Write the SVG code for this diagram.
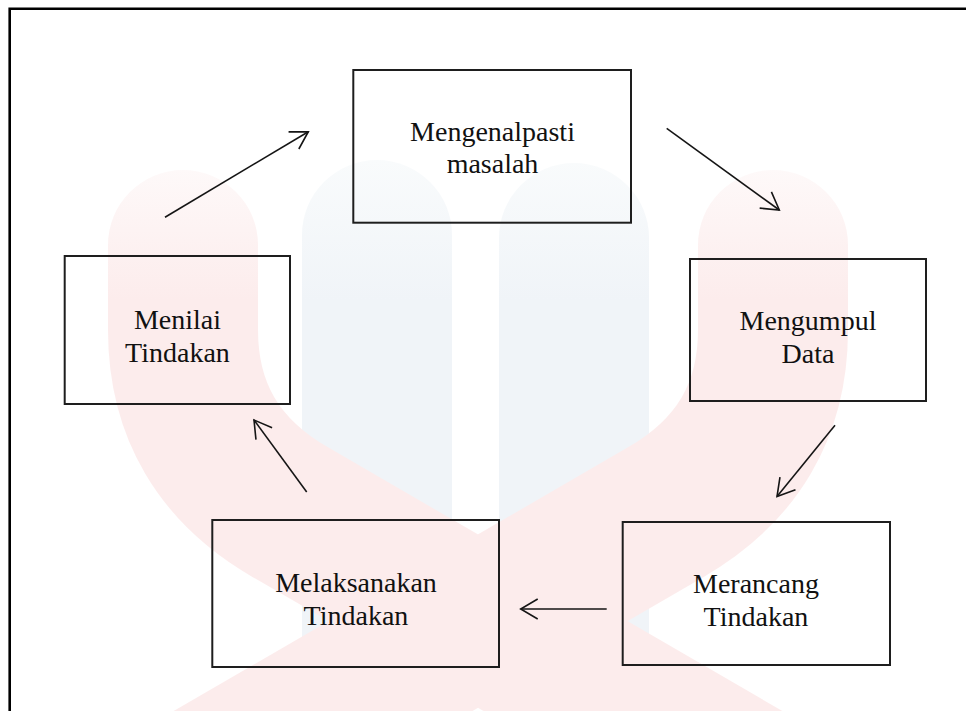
<svg xmlns="http://www.w3.org/2000/svg" width="966" height="711" viewBox="0 0 966 711">
<defs>
<style>
.box{fill:none;stroke:#1e1e1e;stroke-width:2}
.lbl{font-family:"Liberation Serif","Times New Roman",serif;font-size:28px;fill:#111;text-anchor:middle}
.conn{fill:none;stroke:#151515;stroke-width:1.6}
.wm{fill:none;stroke-width:150;stroke-linecap:round;stroke-linejoin:round}
</style>
<linearGradient id="pg" gradientUnits="userSpaceOnUse" x1="0" y1="160" x2="0" y2="300">
<stop offset="0" stop-color="#fefafa"/><stop offset="1" stop-color="#fcecec"/>
</linearGradient>
<linearGradient id="bg" gradientUnits="userSpaceOnUse" x1="0" y1="160" x2="0" y2="300">
<stop offset="0" stop-color="#f9fbfc"/><stop offset="1" stop-color="#f0f4f8"/>
</linearGradient>
<marker id="ah" markerUnits="userSpaceOnUse" markerWidth="24" markerHeight="24" viewBox="0 0 24 24" refX="21" refY="12" orient="auto">
<path d="M4,2 L21,12 L4,22" fill="none" stroke="#151515" stroke-width="1.6"/>
</marker>
</defs>
<rect width="966" height="711" fill="#ffffff"/>
<g id="watermark">
<path class="wm" stroke="url(#bg)" d="M377,235 V800"/>
<path class="wm" stroke="url(#bg)" d="M574,238 V800"/>
<path class="wm" stroke="url(#pg)" d="M183,245 L183,330 Q183,450 290,512 L900,866"/>
<path class="wm" stroke="url(#pg)" d="M773,245 L773,330 Q773,450 666,512 L56,866"/>
</g>
<g id="frame"><path d="M9.7,712 V8.7 H968" fill="none" stroke="#000" stroke-width="2.6"/></g>
<g id="connectors">
<line class="conn" x1="165" y1="217.3" x2="308.3" y2="131.7" marker-end="url(#ah)"/>
<line class="conn" x1="666.7" y1="128.3" x2="779.3" y2="210" marker-end="url(#ah)"/>
<line class="conn" x1="835" y1="425.3" x2="777" y2="496.6" marker-end="url(#ah)"/>
<line class="conn" x1="606.7" y1="609" x2="520.7" y2="609" marker-end="url(#ah)"/>
<line class="conn" x1="306.7" y1="492" x2="254" y2="420" marker-end="url(#ah)"/>
</g>
<g id="node-mengenalpasti">
<rect class="box" x="353.3" y="70" width="277.7" height="152.7"/>
<text class="lbl" x="492.5" y="141">Mengenalpasti</text>
<text class="lbl" x="492.5" y="173">masalah</text>
</g>
<g id="node-mengumpul">
<rect class="box" x="690" y="259" width="236" height="142"/>
<text class="lbl" x="808" y="330">Mengumpul</text>
<text class="lbl" x="808" y="362.5">Data</text>
</g>
<g id="node-merancang">
<rect class="box" x="622.7" y="522" width="267.3" height="143"/>
<text class="lbl" x="756" y="593">Merancang</text>
<text class="lbl" x="756" y="625.5">Tindakan</text>
</g>
<g id="node-melaksanakan">
<rect class="box" x="212.3" y="520" width="286.7" height="147"/>
<text class="lbl" x="356" y="591.5">Melaksanakan</text>
<text class="lbl" x="356" y="624.5">Tindakan</text>
</g>
<g id="node-menilai">
<rect class="box" x="64.7" y="256" width="225.3" height="148"/>
<text class="lbl" x="177.5" y="329">Menilai</text>
<text class="lbl" x="177.5" y="361.5">Tindakan</text>
</g>
</svg>
